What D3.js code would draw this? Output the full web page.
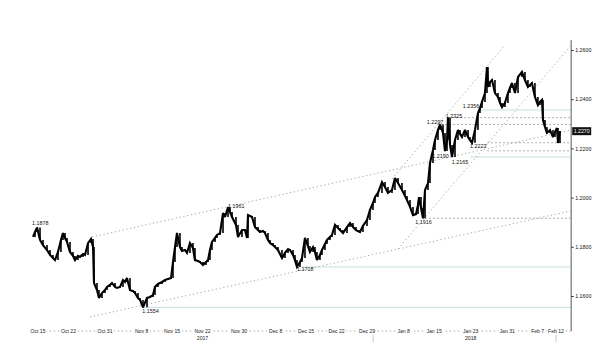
<!DOCTYPE html>
<html><head><meta charset="utf-8">
<script src="https://cdn.jsdelivr.net/npm/d3@7"></script>
<style>body{margin:0;background:#fff}svg{display:block}text{font-family:"Liberation Sans",Arial,sans-serif}</style>
</head><body>
<svg id="c" width="600" height="352"></svg>
<script>
// trading-day position of each traced bar (0 = start of Oct 13, 2017)
const days = [0.18,0.51,0.84,1.33,1.82,2.48,2.97,3.46,3.79,4.28,4.77,5.10,5.43,5.76,6.25,6.74,7.07,7.56,7.89,8.39,8.71,9.21,9.70,10.03,10.19,10.68,11.01,11.50,11.99,12.32,12.81,13.14,13.64,13.96,14.46,14.95,15.28,15.60,16.10,16.59,16.92,17.41,17.74,18.23,18.89,19.38,19.87,20.20,20.69,21.35,21.84,22.33,22.83,23.15,23.48,23.81,24.30,24.63,25.12,25.45,25.94,26.43,26.76,27.26,27.58,28.08,28.57,28.90,29.22,29.55,30.05,30.37,30.87,31.36,31.69,32.18,32.51,32.84,33.49,33.82,34.48,34.97,35.30,35.46,35.79,36.12,36.61,37.10,37.43,37.92,38.25,38.74,39.07,39.56,39.89,40.38,41.04,41.53,42.03,42.35,42.85,43.17,43.50,43.99,44.32,44.81,45.30,45.63,46.13,46.45,46.78,47.27,47.60,48.09,48.42,48.91,49.24,49.74,50.23,50.56,51.05,51.71,52.20,52.69,53.18,53.84,54.33,54.99,55.48,55.97,56.30,56.79,57.45,57.94,58.43,59.09,59.58,60.08,60.73,61.22,61.55,62.05,62.54,63.03,63.36,63.52,63.85,64.18,64.51,65.00,65.33,65.82,66.15,66.64,66.97,67.46,67.79,68.12,68.28,68.61,68.94,69.43,69.92,70.25,70.58,71.07,71.57,71.89,72.22,72.71,73.20,73.53,73.86,74.35,74.68,74.84,75.17,75.50,75.99,76.48,76.81,77.14,77.63,78.12,78.45,78.78,79.27,79.77,80.42,80.91,81.40,81.73,82.06,82.55,83.04,83.37,83.70,83.87,84.19,84.52,85.02,85.51,85.84,86.17,86.33,86.66];
const closes = [1.1840,1.1860,1.1878,1.1828,1.1807,1.1787,1.1767,1.1754,1.1746,1.1779,1.1828,1.1856,1.1836,1.1820,1.1779,1.1763,1.1746,1.1763,1.1759,1.1771,1.1767,1.1815,1.1832,1.1799,1.1653,1.1624,1.1592,1.1612,1.1624,1.1637,1.1645,1.1653,1.1637,1.1633,1.1637,1.1665,1.1657,1.1673,1.1624,1.1620,1.1612,1.1592,1.1584,1.1554,1.1592,1.1596,1.1604,1.1637,1.1649,1.1657,1.1665,1.1669,1.1673,1.1738,1.1799,1.1856,1.1799,1.1783,1.1787,1.1775,1.1815,1.1795,1.1746,1.1742,1.1738,1.1726,1.1738,1.1746,1.1787,1.1820,1.1836,1.1848,1.1856,1.1937,1.1921,1.1961,1.1941,1.1921,1.1889,1.1840,1.1868,1.1868,1.1836,1.1929,1.1925,1.1921,1.1880,1.1868,1.1860,1.1864,1.1856,1.1828,1.1815,1.1807,1.1799,1.1787,1.1754,1.1775,1.1791,1.1787,1.1767,1.1746,1.1718,1.1738,1.1754,1.1836,1.1803,1.1779,1.1799,1.1779,1.1746,1.1767,1.1787,1.1811,1.1828,1.1840,1.1848,1.1889,1.1876,1.1868,1.1856,1.1880,1.1897,1.1880,1.1868,1.1860,1.1885,1.1909,1.1950,1.1978,1.2002,1.2019,1.2063,1.2043,1.2019,1.2031,1.2080,1.2059,1.2031,1.2007,1.1990,1.1962,1.1929,1.1933,1.1970,1.2002,1.1958,1.1916,1.2031,1.2059,1.2141,1.2194,1.2234,1.2275,1.2297,1.2263,1.2189,1.2234,1.2325,1.2214,1.2165,1.2234,1.2275,1.2259,1.2246,1.2275,1.2246,1.2234,1.2223,1.2275,1.2344,1.2364,1.2389,1.2425,1.2531,1.2450,1.2470,1.2478,1.2425,1.2409,1.2385,1.2368,1.2385,1.2425,1.2446,1.2466,1.2425,1.2490,1.2511,1.2478,1.2450,1.2458,1.2466,1.2409,1.2376,1.2389,1.2397,1.2315,1.2287,1.2263,1.2275,1.2246,1.2267,1.2283,1.2222,1.2270];

const tickLabels = ["Oct 15","Oct 22","Oct 31","Nov 8","Nov 15","Nov 22","Nov 30","Dec 8","Dec 15","Dec 22","Dec 29","Jan 8","Jan 15","Jan 23","Jan 31","Feb 7","Feb 12"];
const tickDays   = [1,6,12,18,23,28,34,40,45,50,55,61,66,72,78,83,86];
const yearLabels = ["2017","2018"];
const yearDays   = [28,72];
const markerDays = [56,86];
const yTicks = [1.16,1.18,1.20,1.22,1.24,1.26];
const lastPrice = 1.2270;

const levelValues    = [1.1554,1.1718,1.1916,1.2165,1.2190,1.2223,1.2297,1.2325,1.2356];
const levelStartDays = [18.2,44.3,64.5,71.9,74.7,74.7,66.5,68.3,73.5];
const levelKinds     = ["solid","solid","dash","solid","dash","dash","dash","dash","solid"];

const noteValues = [1.1878,1.1961,1.1554,1.1718,1.1916,1.2190,1.2165,1.2223,1.2297,1.2325,1.2356];
const noteDays   = [0.0,32.2,18.1,43.5,62.9,65.7,68.9,71.9,64.8,67.9,70.7];

const trendStartDays   = [9.86,9.53,59.09,60.08];
const trendStartPrices = [1.1840,1.1515,1.2076,1.1791];
const trendEndDays     = [88.5,88.5,77.63,88.5];
const trendEndPrices   = [1.2275,1.1946,1.2620,1.2620];

// layout (not data)
const noteDy = [-3,1,6,4,6,7,7,5,-0.5,0,-2];

const svg = d3.select("#c");
const x = d3.scaleLinear().domain([0, 88.5]).range([31.9, 571.2]);
const y = d3.scaleLinear().domain([1.16, 1.26]).range([296, 50]);
const axisX = x(88.5);

// horizontal levels
levelValues.forEach((v,i)=>{
  svg.append("line")
    .attr("x1", x(levelStartDays[i])).attr("x2", axisX)
    .attr("y1", y(v)).attr("y2", y(v))
    .attr("stroke", levelKinds[i]==="solid" ? "#b4d8d4" : "#9a9a9a")
    .attr("stroke-width", 0.8)
    .attr("stroke-dasharray", levelKinds[i]==="solid" ? null : "2,2");
});

// trend lines
trendStartDays.forEach((d,i)=>{
  svg.append("line")
    .attr("x1", x(d)).attr("y1", y(trendStartPrices[i]))
    .attr("x2", x(trendEndDays[i])).attr("y2", y(trendEndPrices[i]))
    .attr("stroke", "#a0a0a0").attr("stroke-width", 0.9)
    .attr("stroke-dasharray", "1.3,2.6");
});

// price series: bodies from previous close to close, plus connecting line
const pts = days.map((d,i)=>[d, closes[i]]);
svg.append("g").selectAll("line").data(pts.slice(1)).join("line")
  .attr("x1", (p)=>x(p[0])).attr("x2", (p)=>x(p[0]))
  .attr("y1", (p,i)=>y(closes[i])).attr("y2", p=>y(p[1]))
  .attr("stroke","#000").attr("stroke-width",1.6);
svg.append("path")
  .attr("d", d3.line().x(p=>x(p[0])).y(p=>y(p[1]))(pts))
  .attr("fill","none").attr("stroke","#000").attr("stroke-width",2.1)
  .attr("stroke-linejoin","miter").attr("stroke-miterlimit",2.5);

// notes
noteValues.forEach((v,i)=>{
  svg.append("text")
    .attr("x", x(noteDays[i])).attr("y", y(v) + noteDy[i])
    .attr("font-size", 5.4).attr("fill","#111")
    .text(v.toFixed(4));
});

// right axis
svg.append("line").attr("x1",axisX).attr("x2",axisX).attr("y1",40).attr("y2",331)
  .attr("stroke","#888").attr("stroke-width",1.4);
const ra = svg.append("g").attr("transform",`translate(${axisX},0)`)
  .call(d3.axisRight(y).tickValues(yTicks).tickFormat(d3.format(".4f")).tickSize(2.5).tickPadding(1.5));
ra.select(".domain").remove();
ra.selectAll(".tick line").attr("stroke","#333");
ra.selectAll(".tick text").attr("font-size",5.3).attr("fill","#111").attr("font-family","Liberation Sans, Arial, sans-serif");

// last price tag
svg.append("rect").attr("x",axisX+1).attr("y",y(lastPrice)-4).attr("width",19).attr("height",8).attr("fill","#111");
svg.append("text").attr("x",axisX+10.5).attr("y",y(lastPrice)+1.9).attr("text-anchor","middle")
  .attr("font-size",5.2).attr("fill","#fff").text(lastPrice.toFixed(4));

// bottom axis
const axY = 331;
svg.append("line").attr("x1",x(0.3)).attr("x2",axisX).attr("y1",axY).attr("y2",axY)
  .attr("stroke","#999").attr("stroke-width",0.8).attr("stroke-dasharray","1.5,2.5");
markerDays.forEach(d=>{
  svg.append("line").attr("x1",x(d)).attr("x2",x(d)).attr("y1",axY+1).attr("y2",axY+11)
    .attr("stroke","#bbb").attr("stroke-width",0.8);
});
tickDays.forEach((d,i)=>{
  svg.append("text").attr("x",x(d)).attr("y",axY+2).attr("text-anchor","middle")
    .attr("font-size",5.1).attr("fill","#222")
    .attr("stroke","#fff").attr("stroke-width",3).attr("paint-order","stroke")
    .text(tickLabels[i]);
});
yearDays.forEach((d,i)=>{
  svg.append("text").attr("x",x(d)).attr("y",axY+9).attr("text-anchor","middle")
    .attr("font-size",5.1).attr("fill","#222").text(yearLabels[i]);
});
</script>
</body></html>
